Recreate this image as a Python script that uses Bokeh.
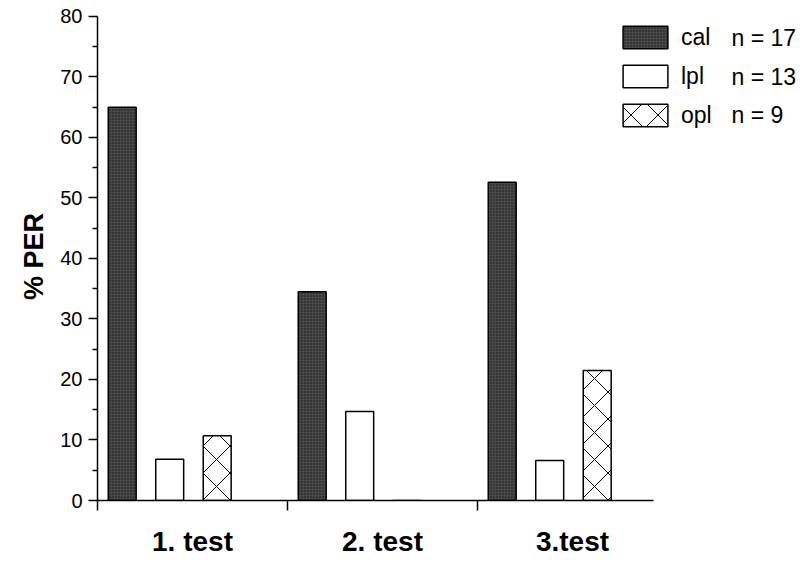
from bokeh.plotting import figure
from bokeh.models import (FixedTicker, Legend, LegendItem, Label, Range1d,
                          ColumnDataSource)
from bokeh.transform import dodge
from bokeh.embed import file_html
from bokeh.resources import INLINE

# ---- data ----
tests = ["1. test", "2. test", "3.test"]
group_x = [1, 2, 3]
cal = [65.0, 34.5, 52.6]
lpl = [6.8, 14.7, 6.6]
opl = [10.7, 0.0, 21.5]
series = ["cal", "lpl", "opl"]
series_n = [17, 13, 9]
y_ticks = [0, 10, 20, 30, 40, 50, 60, 70, 80]

FONT = "Liberation Sans"

p = figure(width=800, height=562, output_backend="svg", toolbar_location=None,
           x_range=Range1d(0.5, 4.2), y_range=Range1d(0, 80.66),
           min_border_left=97, min_border_right=0, min_border_top=12,
           min_border_bottom=62)
p.outline_line_color = None
p.xgrid.visible = False
p.ygrid.visible = False
p.background_fill_color = "white"
p.border_fill_color = "white"

src = ColumnDataSource(dict(x=group_x, cal=cal, lpl=lpl, opl=opl))
bw = 0.147
r_cal = p.vbar(x=dodge("x", -0.37), top="cal", width=bw, source=src,
               fill_color="#4a4a4a", line_color="black", line_width=1.5,
               hatch_pattern="dot", hatch_color="#111111", hatch_scale=3,
               hatch_weight=1)
r_lpl = p.vbar(x=dodge("x", -0.12), top="lpl", width=bw, source=src,
               fill_color="white", line_color="black", line_width=1.5)
r_opl = p.vbar(x=dodge("x", 0.13), top="opl", width=bw, source=src,
               fill_color="white", line_color="black", line_width=1.5,
               hatch_pattern="diagonal_cross", hatch_color="black",
               hatch_scale=27, hatch_weight=1)

# x axis
xa = p.xaxis[0]
xa.ticker = FixedTicker(ticks=group_x,
                        minor_ticks=[g - 0.5 for g in group_x])
xa.major_label_overrides = {g: t for g, t in zip(group_x, tests)}
xa.major_tick_out = 0
xa.major_tick_in = 0
xa.minor_tick_out = 10
xa.minor_tick_in = 0
xa.minor_tick_line_width = 1.5
xa.bounds = (0.5, 3.426)
xa.axis_line_width = 1.5
xa.axis_line_color = "black"
xa.minor_tick_line_color = "black"
xa.major_label_text_font = FONT
xa.major_label_text_font_style = "bold"
xa.major_label_text_font_size = "28px"
xa.major_label_text_color = "black"
xa.major_label_standoff = 15

# y axis
ya = p.yaxis[0]
ya.ticker = FixedTicker(ticks=y_ticks,
                        minor_ticks=[t + 5 for t in y_ticks[:-1]])
ya.bounds = (0, 80)
ya.major_tick_out = 9
ya.major_tick_in = 0
ya.minor_tick_out = 5
ya.minor_tick_in = 0
ya.major_tick_line_width = 1.5
ya.minor_tick_line_width = 1.5
ya.axis_line_width = 1.5
ya.axis_line_color = "black"
ya.major_tick_line_color = "black"
ya.minor_tick_line_color = "black"
ya.major_label_text_font = FONT
ya.major_label_text_font_size = "20px"
ya.major_label_text_color = "black"
ya.major_label_standoff = 6
ya.axis_label = "% PER"
ya.axis_label_text_font = FONT
ya.axis_label_text_font_style = "bold"
ya.axis_label_text_font_size = "27px"
ya.axis_label_text_color = "black"
ya.axis_label_standoff = 8

# legend
legend = Legend(items=[LegendItem(label=s, renderers=[r])
                       for s, r in zip(series, [r_cal, r_lpl, r_opl])],
                location=(520, 371), glyph_width=56, glyph_height=28,
                label_standoff=8, label_text_font=FONT,
                label_text_font_size="23px", label_text_color="black",
                label_height=26, spacing=11, padding=0, margin=0,
                border_line_alpha=0, background_fill_alpha=0)
p.add_layout(legend)

px_per_unit = 6.05
x_per_px = 1 / 190
for i, n in enumerate(series_n):
    row_y = 38 + 38.5 * i
    p.add_layout(Label(x=0.5 + (731 - 97) * x_per_px,
                       y=(500 - row_y) / px_per_unit,
                       text=f"n = {n}", text_font=FONT,
                       text_font_size="23px", text_baseline="middle",
                       text_color="black"))

open("out.html", "w").write(file_html(p, INLINE))
